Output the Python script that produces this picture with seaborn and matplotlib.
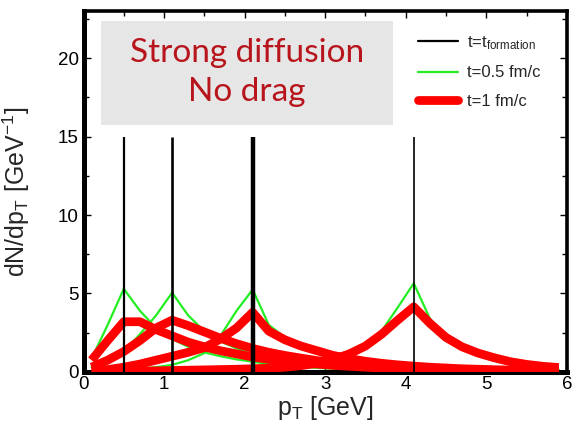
import numpy as np
import pandas as pd
import matplotlib
matplotlib.use("Agg")
import matplotlib.pyplot as plt
import seaborn as sns
from matplotlib.patches import Rectangle
from matplotlib.lines import Line2D

# ---------------- data ----------------
pt = [0.1, 0.3, 0.5, 0.7, 0.9, 1.1, 1.3, 1.5, 1.7, 1.9,
      2.1, 2.3, 2.5, 2.7, 2.9, 3.1, 3.3, 3.5, 3.7, 3.9,
      4.1, 4.3, 4.5, 4.7, 4.9, 5.1, 5.3, 5.5, 5.7, 5.9]

# t = t_formation: delta peaks
formation_pt = [0.5, 1.1, 2.1, 4.1]
formation_height = [15, 15, 15, 15]

# t = 0.5 fm/c
green_1 = [0.85, 3.0, 5.3, 3.9, 2.8, 2.1, 1.6, 1.25, 1.0, 0.8,
           0.65, 0.5, 0.4, 0.32, 0.26, 0.21, 0.17, 0.14, 0.12, 0.1,
           0.08, 0.07, 0.06, 0.05, 0.04, 0.04, 0.03, 0.03, 0.02, 0.02]
green_2 = [0.3, 0.7, 1.3, 2.4, 3.6, 5.05, 3.6, 2.6, 1.95, 1.5,
           1.15, 0.9, 0.7, 0.55, 0.45, 0.35, 0.28, 0.23, 0.19, 0.15,
           0.12, 0.1, 0.08, 0.07, 0.06, 0.05, 0.04, 0.04, 0.03, 0.03]
green_3 = [0.05, 0.08, 0.12, 0.2, 0.3, 0.45, 0.75, 1.2, 2.3, 3.9,
           5.25, 3.0, 2.2, 1.7, 1.3, 1.0, 0.75, 0.55, 0.42, 0.32,
           0.25, 0.2, 0.16, 0.13, 0.1, 0.08, 0.07, 0.06, 0.05, 0.04]
green_4 = [0.01, 0.02, 0.03, 0.04, 0.05, 0.06, 0.08, 0.1, 0.13, 0.17,
           0.2, 0.25, 0.3, 0.4, 0.5, 0.65, 1.0, 1.6, 2.6, 4.1,
           5.65, 3.4, 2.3, 1.6, 1.15, 0.8, 0.55, 0.38, 0.25, 0.15]

# t = 1 fm/c
red_1 = [0.75, 2.0, 3.2, 3.2, 2.7, 2.3, 1.9, 1.6, 1.35, 1.15,
         0.95, 0.8, 0.7, 0.6, 0.5, 0.42, 0.36, 0.3, 0.25, 0.21,
         0.18, 0.15, 0.13, 0.11, 0.09, 0.08, 0.06, 0.05, 0.04, 0.03]
red_2 = [0.3, 0.75, 1.3, 2.0, 2.8, 3.3, 2.95, 2.55, 2.15, 1.8,
         1.5, 1.25, 1.05, 0.88, 0.72, 0.6, 0.5, 0.42, 0.35, 0.29,
         0.24, 0.2, 0.17, 0.14, 0.12, 0.1, 0.08, 0.07, 0.06, 0.05]
red_3 = [0.05, 0.15, 0.3, 0.5, 0.75, 1.0, 1.25, 1.55, 2.1, 2.8,
         3.8, 2.6, 2.05, 1.65, 1.35, 1.05, 0.85, 0.68, 0.55, 0.45,
         0.37, 0.3, 0.25, 0.2, 0.17, 0.14, 0.12, 0.1, 0.08, 0.07]
red_4 = [0.02, 0.03, 0.04, 0.05, 0.07, 0.09, 0.11, 0.13, 0.15, 0.17,
         0.2, 0.24, 0.3, 0.4, 0.55, 0.8, 1.15, 1.65, 2.4, 3.3,
         4.15, 3.1, 2.2, 1.6, 1.2, 0.9, 0.65, 0.48, 0.36, 0.28]

legend_labels = ["t=t$_{formation}$", "t=0.5 fm/c", "t=1 fm/c"]
box_text = "Strong diffusion\nNo drag"
x_ticks = [0, 1, 2, 3, 4, 5, 6]
y_ticks = [0, 5, 10, 15, 20]

# ---------------- style ----------------
sns.set_style("ticks")
plt.rcParams["font.family"] = ["Liberation Sans", "DejaVu Sans"]
plt.rcParams["mathtext.default"] = "regular"

fig = plt.figure(figsize=(5.76, 4.28), dpi=100)
ax = fig.add_axes([0.145, 0.131, 0.839, 0.843])

green_sets = [green_1, green_2, green_3, green_4]
red_sets = [red_1, red_2, red_3, red_4]

for g in green_sets:
    df = pd.DataFrame({"pt": pt, "v": g})
    sns.lineplot(data=df, x="pt", y="v", ax=ax, color="#22ee22", lw=1.6,
                 zorder=2, legend=False)
for r in red_sets:
    df = pd.DataFrame({"pt": pt, "v": r})
    sns.lineplot(data=df, x="pt", y="v", ax=ax, color="#ff0000", lw=6.3,
                 zorder=3, legend=False, solid_capstyle="butt")

black_widths = [1.6, 1.9, 3.2, 1.2]
for xp, h, w in zip(formation_pt, formation_height, black_widths):
    ax.vlines(xp, 0, h, color="black", lw=w, zorder=4)

ax.set_xlim(0, 6)
ax.set_ylim(0, 23)
ax.set_xticks(x_ticks)
ax.set_yticks(y_ticks)
ax.set_xticks(np.arange(0, 6.01, 0.5), minor=True)
ax.set_yticks(np.arange(0, 23, 2.5), minor=True)
ax.tick_params(which="both", direction="in", top=True, right=True,
               labelsize=13.5, width=1.0, colors="black")
ax.tick_params(axis="x", which="both", pad=3)
ax.tick_params(axis="y", which="both", pad=3.5)
ax.tick_params(which="major", length=5)
ax.tick_params(which="minor", length=3.5)
for s in ["left", "bottom"]:
    ax.spines[s].set_linewidth(3.6)
for s in ["top", "right"]:
    ax.spines[s].set_linewidth(2.6)
for s in ax.spines.values():
    s.set_color("black")

ax.set_xlabel("p$_T$ [GeV]", fontsize=18, labelpad=1)
ax.set_ylabel("dN/dp$_T$ [GeV$^{-1}$]", fontsize=18)
ax.yaxis.set_label_coords(-0.106, 0.5)

# grey annotation box
ax.add_patch(Rectangle((0.036, 0.684), 0.604, 0.288, transform=ax.transAxes,
                       facecolor="#e6e6e6", edgecolor="none", zorder=1))
ax.text(0.338, 0.83, box_text, transform=ax.transAxes, ha="center",
        va="center", color="#b8141c", fontsize=24, family=["Lato", "DejaVu Sans"],
        linespacing=1.4, zorder=5)

handles = [Line2D([], [], color="black", lw=1.6),
           Line2D([], [], color="#22ee22", lw=1.6),
           Line2D([], [], color="#ff0000", lw=6.3)]
ax.legend(handles, legend_labels, loc="upper left",
          bbox_to_anchor=(0.685, 0.945), frameon=False, fontsize=12,
          handlelength=2.4, handletextpad=0.55, labelspacing=0.8,
          borderpad=0.2, borderaxespad=0)

fig.savefig("out.png", dpi=100)
